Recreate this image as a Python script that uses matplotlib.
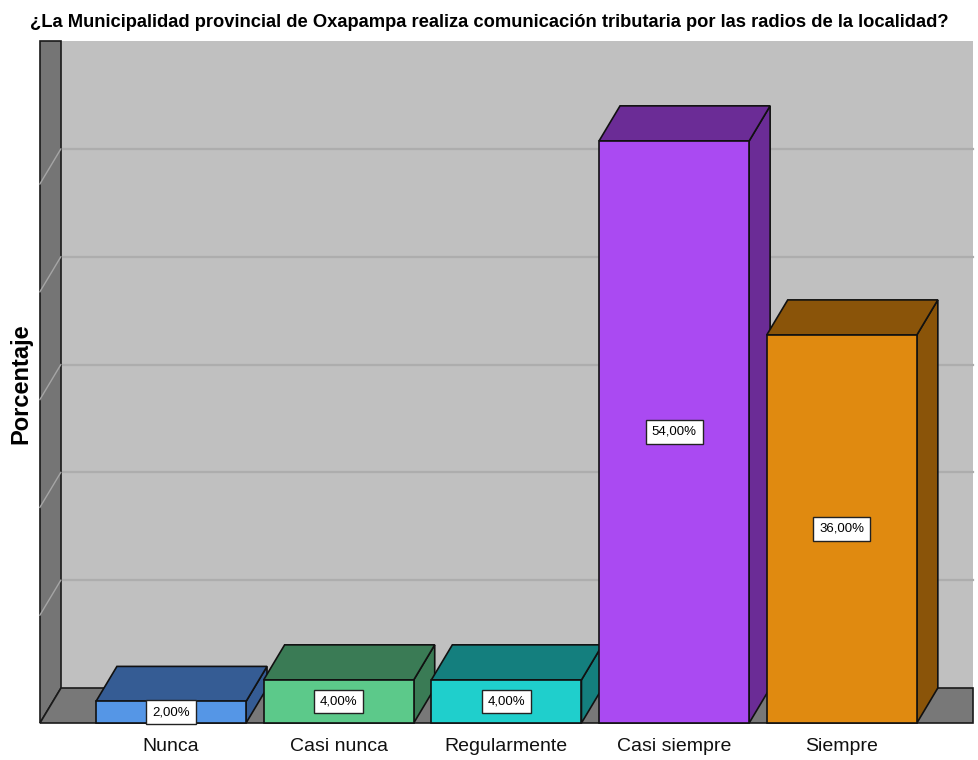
import matplotlib.pyplot as plt
from matplotlib.patches import Polygon, Rectangle

categorias = ["Nunca", "Casi nunca", "Regularmente", "Casi siempre", "Siempre"]
porcentajes = [2.0, 4.0, 4.0, 54.0, 36.0]
etiquetas = ["2,00%", "4,00%", "4,00%", "54,00%", "36,00%"]
frente = ["#5596E6", "#5CC98A", "#1FCFCC", "#AA4AF2", "#E08A10"]
oscuro = ["#355C94", "#3A7B55", "#147F7E", "#6B2C96", "#8A5409"]
rejilla = [10, 20, 30, 40, 50]

TITULO = "¿La Municipalidad provincial de Oxapampa realiza comunicación tributaria por las radios de la localidad?"
FUENTE = ["Liberation Sans", "DejaVu Sans"]

YMAX = 60
DX, DY = 0.125, 3.25   # profundidad 3D en unidades de datos
W = 0.895
XL, XR = -0.782, 4.78  # borde frontal izquierdo / derecho del piso

fig = plt.figure(figsize=(9.79, 7.60), dpi=100)
ax = fig.add_axes([0, 0, 1, 1])
ax.set_axis_off()
ax.set_xlim(-1.0197, 4.818)
ax.set_ylim(-3.432, 67.07)

# pared del fondo
ax.add_patch(Rectangle((XL + DX, DY), XR - XL - DX, YMAX, facecolor="#C0C0C0",
                       edgecolor="none", zorder=0))
for g in rejilla:
    ax.plot([XL + DX, XR], [g + DY, g + DY], color="#ADADAD", lw=1.6, zorder=1)

# pared izquierda y piso
ax.add_patch(Polygon([(XL, 0), (XL, YMAX + DY), (XL + DX, YMAX + DY), (XL + DX, DY)],
                     facecolor="#757575", edgecolor="#1A1A1A", lw=1.2, zorder=2))
ax.add_patch(Polygon([(XL, 0), (XR, 0), (XR, DY), (XL + DX, DY)],
                     facecolor="#787878", edgecolor="#1A1A1A", lw=1.2, zorder=2))
for g in rejilla:
    ax.plot([XL, XL + DX], [g, g + DY], color="#A5A5A5", lw=1.0, zorder=3)

for i, v in enumerate(porcentajes):
    x0, x1 = i - W / 2, i + W / 2
    z = 5 + i
    ax.add_patch(Polygon([(x1, 0), (x1 + DX, DY), (x1 + DX, v + DY), (x1, v)],
                         facecolor=oscuro[i], edgecolor="#111", lw=1.2, zorder=z))
    ax.add_patch(Polygon([(x0, v), (x1, v), (x1 + DX, v + DY), (x0 + DX, v + DY)],
                         facecolor=oscuro[i], edgecolor="#111", lw=1.2, zorder=z))
    ax.add_patch(Rectangle((x0, 0), W, v, facecolor=frente[i], edgecolor="#111",
                           lw=1.2, zorder=z))
    ax.text(i, v / 2, etiquetas[i], ha="center", va="center", fontsize=9.5,
            family=FUENTE, zorder=20,
            bbox=dict(boxstyle="square,pad=0.45", facecolor="white",
                      edgecolor="#222", lw=1))
    ax.text(i, -1.35, categorias[i], ha="center", va="top", fontsize=14,
            family=FUENTE, color="#111")

fig.text(0.5, 0.971, TITULO, ha="center", va="center", fontsize=13.2,
         fontweight="bold", family=FUENTE)
fig.text(0.021, 0.495, "Porcentaje", ha="center", va="center", rotation=90,
         fontsize=17, fontweight="bold", family=FUENTE)

fig.savefig("out.png", dpi=100)
